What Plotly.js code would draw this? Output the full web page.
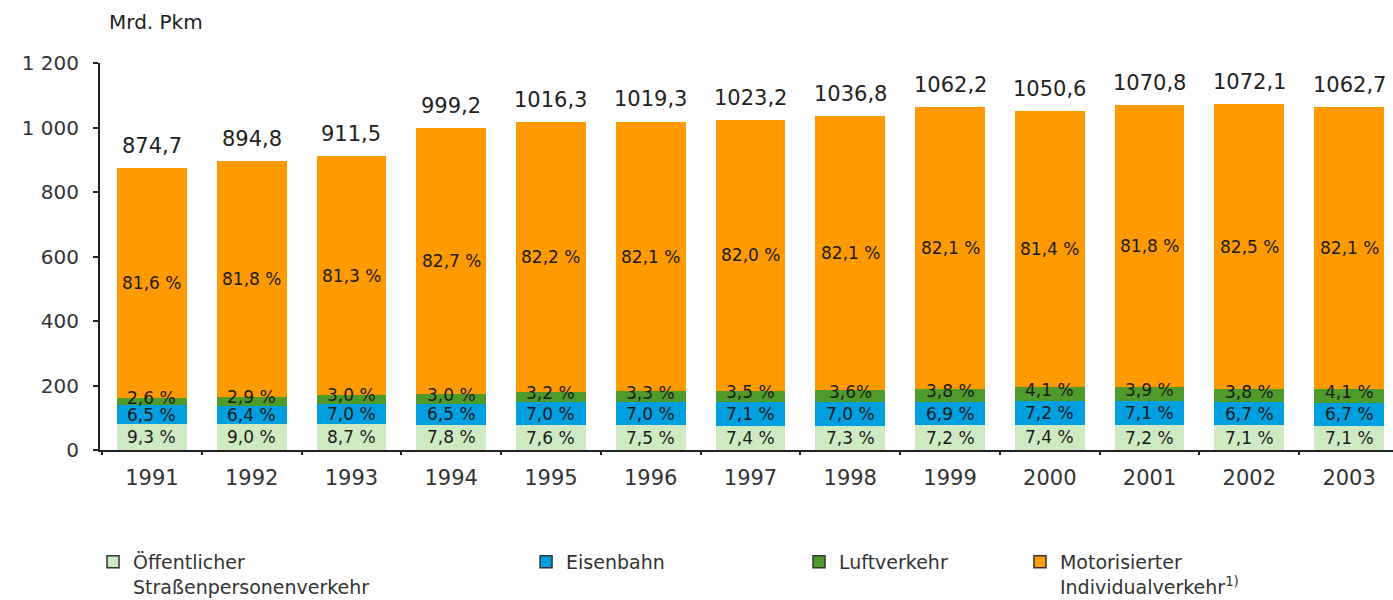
<!DOCTYPE html>
<html>
<head>
<meta charset="utf-8">
<script src="https://cdn.plot.ly/plotly-3.0.1.min.js"></script>
<style>html,body{margin:0;padding:0;background:#fff;}#chart{width:1393px;height:600px;}</style>
</head>
<body>
<div id="chart"></div>
<script>
// ---- Data (Mrd. Pkm, shares in %) ----
var years = ['1991','1992','1993','1994','1995','1996','1997','1998','1999','2000','2001','2002','2003'];
var totals = [874.7, 894.8, 911.5, 999.2, 1016.3, 1019.3, 1023.2, 1036.8, 1062.2, 1050.6, 1070.8, 1072.1, 1062.7];
var totalLabels = ['874,7','894,8','911,5','999,2','1016,3','1019,3','1023,2','1036,8','1062,2','1050,6','1070,8','1072,1','1062,7'];
var pctOeSPV = [9.3, 9.0, 8.7, 7.8, 7.6, 7.5, 7.4, 7.3, 7.2, 7.4, 7.2, 7.1, 7.1];
var pctBahn  = [6.5, 6.4, 7.0, 6.5, 7.0, 7.0, 7.1, 7.0, 6.9, 7.2, 7.1, 6.7, 6.7];
var pctLuft  = [2.6, 2.9, 3.0, 3.0, 3.2, 3.3, 3.5, 3.6, 3.8, 4.1, 3.9, 3.8, 4.1];
var pctMIV   = [81.6, 81.8, 81.3, 82.7, 82.2, 82.1, 82.0, 82.1, 82.1, 81.4, 81.8, 82.5, 82.1];
var seriesNames = ['Öffentlicher<br>Straßenpersonenverkehr', 'Eisenbahn', 'Luftverkehr', 'Motorisierter<br>Individualverkehr<sup>1)</sup>'];
var yTickVals = [0, 200, 400, 600, 800, 1000, 1200];
var yTickText = ['0', '200', '400', '600', '800', '1 000', '1 200'];
var colors = ['#CDEAC3', '#009FDF', '#4E9B2C', '#FF9A00'];

var FONT = 'DejaVu Sans, Arial, sans-serif';
var pcts = [pctOeSPV, pctBahn, pctLuft, pctMIV];
var values = pcts.map(function (p) { return p.map(function (v, i) { return totals[i] * v / 100; }); });
function fmt(v) { return v.toFixed(1).replace('.', ',') + ' %'; }
var labels = pcts.map(function (p) { return p.map(fmt); });
labels[2][7] = '3,6%';

var traces = [];
var legendIds = ['legend', 'legend2', 'legend3', 'legend4'];
for (var s = 0; s < 4; s++) {
  traces.push({
    type: 'bar', x: years, y: values[s], name: seriesNames[s],
    marker: {color: colors[s], line: {width: 0}},
    showlegend: false, hoverinfo: 'skip'
  });
}
for (var s = 0; s < 4; s++) {
  traces.push({
    type: 'bar', x: [null], y: [null], name: seriesNames[s],
    marker: {color: colors[s], line: {width: 1.5, color: '#333'}},
    showlegend: true, legend: legendIds[s], hoverinfo: 'skip'
  });
}

var annotations = [];
var yShifts = [0, 0, 4, 0];
for (var i = 0; i < years.length; i++) {
  var base = 0;
  for (var s = 0; s < 4; s++) {
    var v = values[s][i];
    annotations.push({
      x: i, y: base + v / 2, xref: 'x', yref: 'y', text: labels[s][i],
      showarrow: false, yshift: yShifts[s], xanchor: 'center', yanchor: 'middle',
      font: {family: FONT, size: 17, color: '#1a1a1a'}
    });
    base += v;
  }
  annotations.push({
    x: i, y: totals[i], xref: 'x', yref: 'y', text: totalLabels[i],
    showarrow: false, yshift: 22, xanchor: 'center', yanchor: 'middle',
    font: {family: FONT, size: 21, color: '#222'}
  });
}
annotations.push({
  x: 0.0054, y: 1.106, xref: 'paper', yref: 'paper', text: 'Mrd. Pkm',
  showarrow: false, xanchor: 'left', yanchor: 'middle',
  font: {family: FONT, size: 20, color: '#222'}
});

function leg(x) {
  return {x: x, y: -0.24, xanchor: 'left', yanchor: 'top', orientation: 'v', valign: 'top',
          bgcolor: 'rgba(0,0,0,0)', font: {family: FONT, size: 19, color: '#333'}};
}

var layout = {
  width: 1393, height: 600,
  margin: {l: 100, r: 0, t: 63, b: 150, pad: 0, autoexpand: false},
  paper_bgcolor: '#fff', plot_bgcolor: '#fff',
  barmode: 'stack', bargap: 0.3,
  showlegend: true,
  legend: leg(-0.0054), legend2: leg(0.3295), legend3: leg(0.5406), legend4: leg(0.7115),
  xaxis: {
    type: 'category', range: [-0.52, 12.44], showline: true, linecolor: '#222', linewidth: 2,
    ticks: 'outside', tickson: 'boundaries', ticklen: 3, tickwidth: 2, tickcolor: '#222',
    showgrid: false, zeroline: false, ticklabelstandoff: 8,
    tickfont: {family: FONT, size: 21, color: '#333'}
  },
  yaxis: {
    range: [0, 1200], tickvals: yTickVals, ticktext: yTickText,
    showline: true, linecolor: '#222', linewidth: 2,
    ticks: 'outside', ticklen: 5, tickwidth: 2, tickcolor: '#222',
    showgrid: false, zeroline: false, ticklabelstandoff: 10,
    tickfont: {family: FONT, size: 20, color: '#333'}
  },
  annotations: annotations
};

Plotly.newPlot('chart', traces, layout, {displayModeBar: false, staticPlot: true});
</script>
</body>
</html>
